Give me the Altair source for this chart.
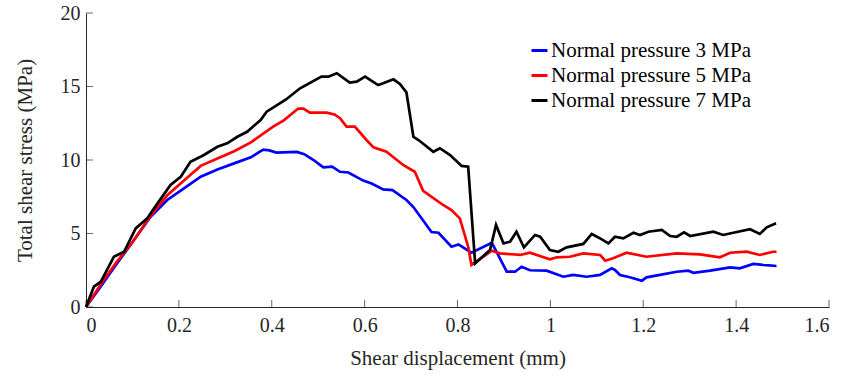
import altair as alt
import pandas as pd

series_names = ["Normal pressure 3 MPa", "Normal pressure 5 MPa", "Normal pressure 7 MPa"]
series_colors = ["#0000FF", "#FF0000", "#000000"]

x3 = [0, 0.033, 0.067, 0.1, 0.139, 0.175, 0.211, 0.247, 0.283, 0.319, 0.355, 0.376, 0.382, 0.395, 0.41, 0.454,
      0.47, 0.49, 0.511, 0.53, 0.547, 0.565, 0.597, 0.615, 0.640, 0.66, 0.69, 0.705, 0.744, 0.759, 0.787,
      0.802, 0.830, 0.874, 0.906, 0.924, 0.938, 0.956, 0.992, 1.028, 1.049, 1.078, 1.107, 1.132, 1.139,
      1.150, 1.171, 1.197, 1.207, 1.236, 1.272, 1.297, 1.308, 1.344, 1.387, 1.408, 1.437, 1.458, 1.487]
y3 = [0, 1.45, 2.97, 4.4, 6.14, 7.28, 8.07, 8.86, 9.36, 9.77, 10.18, 10.6, 10.7, 10.65, 10.5, 10.55,
      10.4, 10.0, 9.5, 9.55, 9.2, 9.15, 8.6, 8.4, 8.0, 7.95, 7.28, 6.8, 5.1, 5.05, 4.1,
      4.26, 3.7, 4.37, 2.4, 2.4, 2.74, 2.5, 2.47, 2.06, 2.18, 2.06, 2.18, 2.63, 2.52,
      2.18, 2.02, 1.79, 2.02, 2.18, 2.40, 2.47, 2.33, 2.47, 2.70, 2.63, 2.93, 2.86, 2.79]

x5 = [0, 0.033, 0.067, 0.1, 0.139, 0.175, 0.211, 0.247, 0.283, 0.319, 0.355, 0.403, 0.426, 0.457, 0.468,
      0.482, 0.518, 0.535, 0.547, 0.561, 0.579, 0.604, 0.619, 0.647, 0.683, 0.708, 0.726, 0.769, 0.787,
      0.805, 0.823, 0.830, 0.874, 0.891, 0.935, 0.956, 0.999, 1.014, 1.042, 1.071, 1.107, 1.118, 1.135,
      1.164, 1.207, 1.272, 1.322, 1.365, 1.387, 1.423, 1.451, 1.480, 1.487]
y5 = [0, 1.6, 3.1, 4.4, 6.2, 7.6, 8.6, 9.6, 10.1, 10.6, 11.2, 12.27, 12.7, 13.5, 13.5,
      13.22, 13.22, 13.1, 12.84, 12.27, 12.27, 11.36, 10.86, 10.56, 9.66, 9.2, 7.9, 6.94, 6.6,
      6.03, 4.1, 2.86, 3.83, 3.65, 3.54, 3.69, 3.24, 3.38, 3.42, 3.65, 3.54, 3.15, 3.31,
      3.69, 3.42, 3.65, 3.58, 3.38, 3.69, 3.76, 3.54, 3.76, 3.76]

x7 = [0, 0.017, 0.032, 0.060, 0.082, 0.107, 0.132, 0.154, 0.182, 0.204, 0.225, 0.254, 0.283, 0.304, 0.326,
      0.347, 0.376, 0.389, 0.43, 0.461, 0.507, 0.522, 0.540, 0.568, 0.583, 0.601, 0.629, 0.640, 0.662,
      0.676, 0.69, 0.705, 0.716, 0.748, 0.762, 0.784, 0.809, 0.823, 0.838, 0.870, 0.883, 0.899, 0.913,
      0.927, 0.943, 0.967, 0.978, 0.999, 1.017, 1.035, 1.071, 1.089, 1.107, 1.125, 1.139, 1.157, 1.179,
      1.193, 1.211, 1.240, 1.258, 1.272, 1.288, 1.301, 1.351, 1.372, 1.394, 1.430, 1.451, 1.466, 1.486]
y7 = [0, 1.38, 1.72, 3.42, 3.76, 5.35, 6.03, 7.05, 8.3, 8.86, 9.88, 10.34, 10.9, 11.13, 11.58,
      11.92, 12.72, 13.29, 14.1, 14.88, 15.67, 15.67, 15.9, 15.26, 15.33, 15.67, 15.1, 15.22, 15.49,
      15.17, 14.6, 11.58, 11.36, 10.56, 10.8, 10.34, 9.6, 9.54, 2.97, 3.88, 5.58, 4.33, 4.44,
      5.12, 4.06, 4.9, 4.78, 3.88, 3.76, 4.06, 4.29, 4.97, 4.67, 4.33, 4.78, 4.67, 5.05,
      4.9, 5.12, 5.24, 4.83, 4.78, 5.08, 4.83, 5.12, 4.9, 5.05, 5.29, 4.97, 5.42, 5.69]

x_ticks = [0, 0.2, 0.4, 0.6, 0.8, 1.0, 1.2, 1.4, 1.6]
y_ticks = [0, 5, 10, 15, 20]

rows = []
for name, xs, ys in zip(series_names, [x3, x5, x7], [y3, y5, y7]):
    for a, b in zip(xs, ys):
        rows.append({"x": a, "y": b, "series": name})
df = pd.DataFrame(rows)

FONT = "Liberation Serif"
AX = "#262626"

xscale = alt.Scale(domain=[0, 1.6], nice=False, zero=False)
yscale = alt.Scale(domain=[0, 20], nice=False)

lines = alt.Chart(df).mark_line(strokeWidth=2.7).encode(
    x=alt.X("x:Q", scale=xscale,
            axis=alt.Axis(values=x_ticks, title="Shear displacement (mm)", grid=False, ticks=False,
                          labelPadding=8, titlePadding=12, format="~g")),
    y=alt.Y("y:Q", scale=yscale,
            axis=alt.Axis(values=y_ticks, title="Total shear stress (MPa)", grid=False, ticks=False,
                          labelPadding=6, titlePadding=25)),
    color=alt.Color("series:N",
                    scale=alt.Scale(domain=series_names, range=series_colors),
                    legend=alt.Legend(title=None, orient="none", legendX=443, legendY=27,
                                      symbolType="stroke", symbolSize=256, symbolStrokeWidth=3,
                                      labelFont=FONT, labelFontSize=21, labelColor="#000000",
                                      labelOffset=1, rowPadding=3, labelLimit=400)),
    order=alt.Order("x:Q"),
)

xt = alt.Chart(pd.DataFrame({"x": x_ticks, "y": [0] * len(x_ticks)})).mark_tick(
    orient="vertical", size=7, thickness=1, color=AX, yOffset=-3.5
).encode(x=alt.X("x:Q", scale=xscale), y=alt.Y("y:Q", scale=yscale))

yt = alt.Chart(pd.DataFrame({"y": y_ticks, "x": [0] * len(y_ticks)})).mark_tick(
    orient="horizontal", size=7, thickness=1, color=AX, xOffset=3.5
).encode(x=alt.X("x:Q", scale=xscale), y=alt.Y("y:Q", scale=yscale))

chart = alt.layer(lines, xt, yt).properties(
    width=743, height=294,
    background="white",
    autosize=alt.AutoSizeParams(type="none"),
    padding={"left": 86, "top": 13, "right": 13, "bottom": 69},
).configure_view(stroke=None).configure_axis(
    domainColor=AX, domainWidth=1, labelFont=FONT, labelFontSize=20, labelColor=AX,
    titleFont=FONT, titleFontSize=21, titleColor=AX, titleFontWeight="normal",
).configure_legend(
    labelFont=FONT, labelFontSize=21, labelColor="#000000",
)

chart.save("out.html", embed_options={"renderer": "svg", "actions": False})
